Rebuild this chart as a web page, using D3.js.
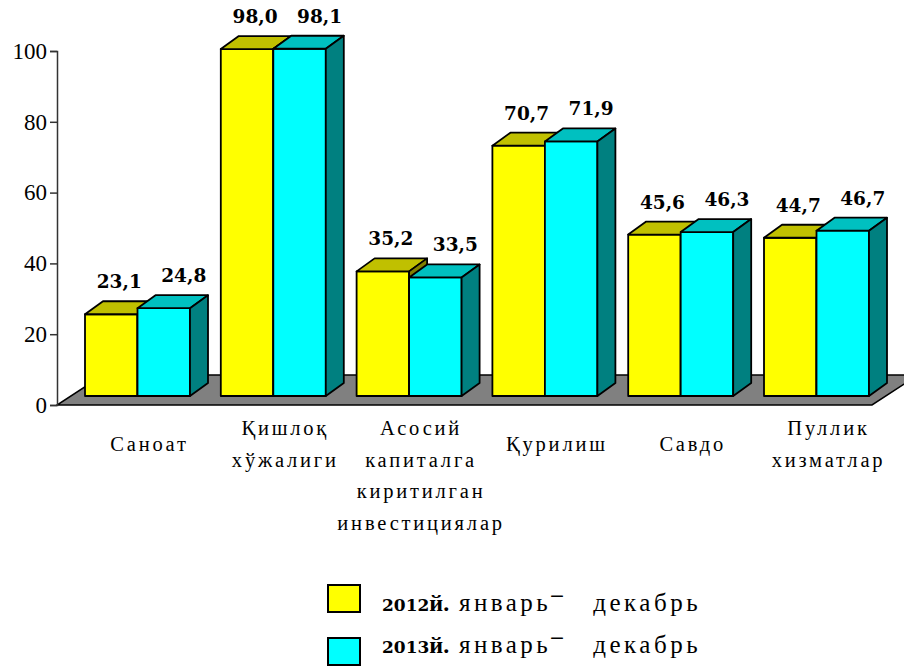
<!DOCTYPE html>
<html>
<head>
<meta charset="utf-8">
<script src="https://cdn.jsdelivr.net/npm/d3@7"></script>
<style>
  body { margin: 0; background: #fff; }
  svg { display: block; }
</style>
</head>
<body>
<svg id="chart" width="904" height="666"></svg>
<script>
const categories = ["Саноат", "Қишлоқ хўжалиги", "Асосий капиталга киритилган инвестициялар", "Қурилиш", "Савдо", "Пуллик хизматлар"];
const categoryLines = [
    ["Саноат"],
    ["Қишлоқ", "хўжалиги"],
    ["Асосий", "капиталга", "киритилган", "инвестициялар"],
    ["Қурилиш"],
    ["Савдо"],
    ["Пуллик", "хизматлар"]
];
const seriesYears = ["2012", "2013"];
const values2012 = [23.1, 98.0, 35.2, 70.7, 45.6, 44.7];
const values2013 = [24.8, 98.1, 33.5, 71.9, 46.3, 46.7];
const yTicks = [0, 20, 40, 60, 80, 100];
const legendMid = " январь";
const legendEnd = "декабрь";

const svg = d3.select("#chart");
const serifFont = "Liberation Serif";
const boldFont = "DejaVu Serif";

const colors = [
    { front: "#ffff00", top: "#c0c000", side: "#808000" },
    { front: "#00ffff", top: "#00c0c0", side: "#008080" }
];

const depth = { dx: 18, dy: -13 };   // bar depth
const floorDepth = { dx: 46, dy: -30 };
const lift = 9;                      // bars sit a bit back on the floor
const labelShift = [8, 20];

const y = d3.scaleLinear().domain([0, 100]).range([405, 51]);
const x = d3.scaleBand().domain(categories).range([69.6, 884.4]);
const pairWidth = 105;
const xSub = d3.scaleBand().domain(seriesYears).range([0, pairWidth]);
const pairOffset = (x.bandwidth() - pairWidth) / 2;

const fmt = d3.formatLocale({ decimal: ",", thousands: " ", grouping: [3], currency: ["", ""] }).format(".1f");

// floor
const fx0 = 57, fx1 = 872, fy = y(0);
svg.append("polygon")
    .attr("points", [
        [fx0, fy], [fx1, fy],
        [fx1 + floorDepth.dx, fy + floorDepth.dy],
        [fx0 + floorDepth.dx, fy + floorDepth.dy]
    ].join(" "))
    .attr("fill", "#808080")
    .attr("stroke", "#000")
    .attr("stroke-width", 1.5);

// value axis
const axis = svg.append("g")
    .attr("transform", `translate(${fx0},0)`)
    .call(d3.axisLeft(y).tickValues(yTicks).tickSize(7).tickPadding(3).tickFormat(d3.format("d")));
axis.attr("font-family", serifFont).attr("font-size", 23);
axis.select(".domain").attr("stroke", "#333").attr("stroke-width", 1.5);
axis.selectAll(".tick line").attr("stroke", "#333").attr("stroke-width", 1.5);
axis.selectAll(".tick text").attr("fill", "#000");

// bars
const series = [values2012, values2013];
const bars = svg.append("g");
categories.forEach((cat, i) => {
    series.forEach((vals, s) => {
        const w = xSub.bandwidth();
        const x0 = x(cat) + pairOffset + xSub(seriesYears[s]);
        const x1 = x0 + w;
        const yT = y(vals[i]) - lift;
        const yB = y(0) - lift;
        const g = bars.append("g")
            .attr("stroke", "#000")
            .attr("stroke-width", 1.8)
            .attr("stroke-linejoin", "round");
        g.append("rect")
            .attr("x", x0).attr("y", yT)
            .attr("width", w).attr("height", yB - yT)
            .attr("fill", colors[s].front);
        g.append("polygon")
            .attr("points", [[x0, yT], [x1, yT], [x1 + depth.dx, yT + depth.dy], [x0 + depth.dx, yT + depth.dy]].join(" "))
            .attr("fill", colors[s].top);
        g.append("polygon")
            .attr("points", [[x1, yT], [x1 + depth.dx, yT + depth.dy], [x1 + depth.dx, yB + depth.dy], [x1, yB]].join(" "))
            .attr("fill", colors[s].side);
    });
});

// data labels
categories.forEach((cat, i) => {
    series.forEach((vals, s) => {
        const w = xSub.bandwidth();
        const x0 = x(cat) + pairOffset + xSub(seriesYears[s]);
        svg.append("text")
            .attr("x", x0 + w / 2 + labelShift[s])
            .attr("y", y(vals[i]) - lift - 26)
            .attr("text-anchor", "middle")
            .attr("font-family", boldFont)
            .attr("font-weight", "bold")
            .attr("font-size", 18.5)
            .text(fmt(vals[i]));
    });
});

// category labels
categories.forEach((cat, i) => {
    const lines = categoryLines[i];
    const cx = x(cat) + x.bandwidth() / 2 + 12;
    const startY = lines.length === 1 ? 451 : 435;
    const t = svg.append("text")
        .attr("text-anchor", "middle")
        .attr("font-family", serifFont)
        .attr("font-size", 20.5)
        .attr("letter-spacing", 2.8);
    lines.forEach((line, k) => {
        t.append("tspan")
            .attr("x", cx)
            .attr("y", startY + k * 31.5)
            .text(line);
    });
});

// legend
const legendBaselines = [611, 653];
seriesYears.forEach((yr, s) => {
    svg.append("rect")
        .attr("x", 328).attr("y", 585 + s * 53)
        .attr("width", 32).attr("height", 27)
        .attr("fill", colors[s].front)
        .attr("stroke", "#000")
        .attr("stroke-width", 2);
    const t = svg.append("text")
        .attr("x", 382).attr("y", legendBaselines[s])
        .attr("font-family", serifFont)
        .attr("font-size", 25)
        .attr("letter-spacing", 3.5);
    t.append("tspan")
        .attr("font-family", boldFont)
        .attr("font-weight", "bold")
        .attr("font-size", 17)
        .attr("letter-spacing", 0)
        .text(yr);
    t.append("tspan")
        .attr("font-weight", "bold")
        .attr("font-size", 24)
        .attr("letter-spacing", 0)
        .text("й.");
    t.append("tspan").text(legendMid);
    t.append("tspan").attr("dy", -9).attr("font-weight", "bold").attr("font-size", 23).text("–");
    t.append("tspan").attr("dy", 9).attr("dx", 27).text(legendEnd);
});
</script>
</body>
</html>
